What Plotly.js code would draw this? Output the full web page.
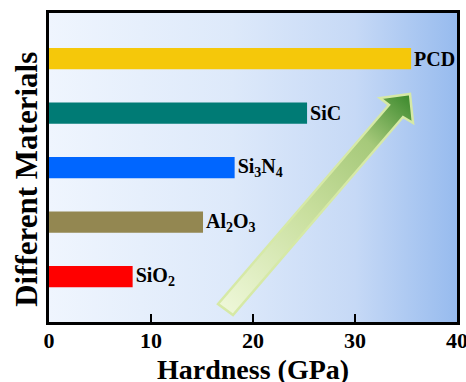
<!DOCTYPE html>
<html>
<head>
<meta charset="utf-8">
<script src="https://cdn.plot.ly/plotly-3.0.1.min.js"></script>
<style>html,body{margin:0;padding:0;background:#fff;}#chart{width:466px;height:382px;}</style>
</head>
<body>
<div id="chart"></div>
<script>
// ---- data ----
var materials = ['SiO2', 'Al2O3', 'Si3N4', 'SiC', 'PCD'];
var labels = ['SiO<sub>2</sub>', 'Al<sub>2</sub>O<sub>3</sub>', 'Si<sub>3</sub>N<sub>4</sub>', 'SiC', 'PCD'];
var hardness = [8.2, 15.1, 18.2, 25.3, 35.5];
var barColors = ['#FF0000', '#938751', '#0066FF', '#007B75', '#F5C80A'];
var xTicks = [0, 10, 20, 30, 40];

// ---- decoration: gradient background and trend arrow (SVG image in plot area) ----
var W = 408, H = 309;
var arrowPts = [[169,291],[340,92],[331,85],[361,81],[364,110],[354,104],[184,302]];
var svg = '<svg xmlns="http://www.w3.org/2000/svg" width="' + W + '" height="' + H + '" viewBox="0 0 ' + W + ' ' + H + '" preserveAspectRatio="none">' +
  '<defs>' +
  '<linearGradient id="bg" x1="0" y1="0" x2="1" y2="0">' +
  '<stop offset="0" stop-color="#eff5fe"/><stop offset="0.45" stop-color="#dde9fa"/>' +
  '<stop offset="0.75" stop-color="#c6d9f6"/><stop offset="1" stop-color="#97bbee"/></linearGradient>' +
  '<linearGradient id="ar" gradientUnits="userSpaceOnUse" x1="176" y1="297" x2="362" y2="84">' +
  '<stop offset="0" stop-color="#eef7d8"/><stop offset="0.45" stop-color="#c9df9e"/>' +
  '<stop offset="0.78" stop-color="#a6c97a"/><stop offset="1" stop-color="#3d8a2e"/></linearGradient>' +
  '</defs>' +
  '<rect x="0" y="0" width="' + W + '" height="' + H + '" fill="url(#bg)"/>' +
  '<polygon points="' + arrowPts.map(function(p){return p.join(',');}).join(' ') + '" fill="url(#ar)" stroke="#d6e9a6" stroke-width="2.5" stroke-linejoin="miter"/>' +
  '</svg>';
var svgUri = 'data:image/svg+xml;charset=utf-8,' + encodeURIComponent(svg);

var FONT = 'Liberation Serif, Times New Roman, serif';

var trace = {
  type: 'bar',
  orientation: 'h',
  x: hardness,
  y: materials,
  width: 0.39,
  marker: {color: barColors, line: {width: 0}},
  text: labels,
  textposition: 'outside',
  constraintext: 'none',
  cliponaxis: false,
  textfont: {family: FONT, size: 20, color: '#000', weight: 'bold'},
  hoverinfo: 'x+y'
};

var layout = {
  width: 466, height: 382,
  margin: {l: 49, r: 9, t: 13, b: 60, pad: 0},
  paper_bgcolor: '#ffffff',
  plot_bgcolor: 'rgba(0,0,0,0)',
  showlegend: false,
  font: {family: FONT, color: '#000'},
  xaxis: {
    range: [0, 40],
    tickvals: xTicks,
    ticktext: xTicks.map(String),
    ticks: 'inside', ticklen: 8, tickwidth: 2.5, tickcolor: '#000',
    showline: true, linewidth: 3, linecolor: '#000', mirror: true,
    showgrid: false, zeroline: false,
    ticklabeloverflow: 'allow',
    ticklabelstandoff: -3,
    tickfont: {family: FONT, size: 22, color: '#000', weight: 'bold'}
  },
  yaxis: {
    type: 'category',
    categoryorder: 'array', categoryarray: materials,
    range: [-0.83, 4.835],
    showticklabels: false, ticks: '',
    showline: true, linewidth: 3, linecolor: '#000', mirror: true,
    showgrid: false, zeroline: false
  },
  images: [{
    source: svgUri, xref: 'paper', yref: 'paper', x: 0, y: 1, sizex: 1, sizey: 1,
    xanchor: 'left', yanchor: 'top', sizing: 'stretch', layer: 'below'
  }],
  annotations: [
    {text: 'Hardness (GPa)', xref: 'paper', yref: 'paper', x: 0.5, y: 0, xanchor: 'center', yanchor: 'middle',
     yshift: -47, showarrow: false, font: {family: FONT, size: 28, color: '#000', weight: 'bold'}},
    {text: 'Different Materials', xref: 'paper', yref: 'paper', x: 0, y: 0.46, xanchor: 'center', yanchor: 'middle',
     xshift: -22, textangle: -90, showarrow: false, font: {family: FONT, size: 31, color: '#000', weight: 'bold'}}
  ]
};

Plotly.newPlot('chart', [trace], layout, {displayModeBar: false, staticPlot: true});
</script>
</body>
</html>
